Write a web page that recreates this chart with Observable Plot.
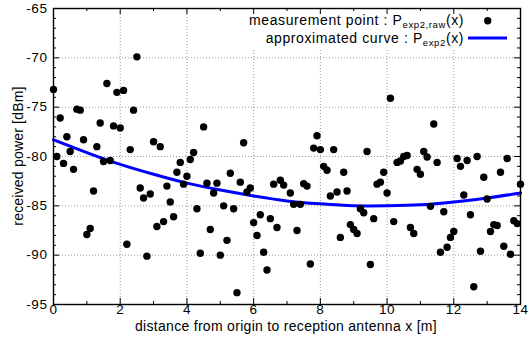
<!DOCTYPE html>
<html><head><meta charset="utf-8">
<script src="https://cdn.jsdelivr.net/npm/d3@7"></script>
<script src="https://cdn.jsdelivr.net/npm/@observablehq/plot@0.6"></script>
<style>body{margin:0;background:#fff}</style>
</head><body><div id="chart"></div>
<script>
// measurement positions [m] (no reading visible at 7.0 m)
const distance = [
 0.0,0.1,0.2,0.3,0.4,0.5,0.6,0.7,0.8,0.9,
 1.0,1.1,1.2,1.3,1.4,1.5,1.6,1.7,1.8,1.9,
 2.0,2.1,2.2,2.3,2.4,2.5,2.6,2.7,2.8,2.9,
 3.0,3.1,3.2,3.3,3.4,3.5,3.6,3.7,3.8,3.9,
 4.0,4.1,4.2,4.3,4.4,4.5,4.6,4.7,4.8,4.9,
 5.0,5.1,5.2,5.3,5.4,5.5,5.6,5.7,5.8,5.9,
 6.0,6.1,6.2,6.3,6.4,6.5,6.6,6.7,6.8,6.9,
 7.1,7.2,7.3,7.4,7.5,7.6,7.7,7.8,7.9,
 8.0,8.1,8.2,8.3,8.4,8.5,8.6,8.7,8.8,8.9,
 9.0,9.1,9.2,9.3,9.4,9.5,9.6,9.7,9.8,9.9,
 10.0,10.1,10.2,10.3,10.4,10.5,10.6,10.7,10.8,10.9,
 11.0,11.1,11.2,11.3,11.4,11.5,11.6,11.7,11.8,11.9,
 12.0,12.1,12.2,12.3,12.4,12.5,12.6,12.7,12.8,12.9,
 13.0,13.1,13.2,13.3,13.4,13.5,13.6,13.7,13.8,13.9,
 14.0
];
// measured received power [dBm]
const power = [
 -73.2,-80.0,-76.1,-80.7,-78.0,-79.5,-81.3,-75.2,-75.3,-78.3,
 -87.9,-87.3,-83.5,-79.0,-76.6,-80.5,-72.6,-80.4,-76.9,-73.5,
 -77.1,-73.3,-88.9,-79.3,-75.3,-69.9,-83.2,-84.2,-90.1,-83.8,
 -78.5,-87.1,-79.0,-86.6,-83.0,-84.6,-86.1,-81.6,-80.6,-82.8,
 -82.0,-80.3,-79.6,-85.3,-89.8,-77.0,-82.7,-87.4,-83.7,-82.7,
 -90.0,-85.0,-88.5,-81.7,-85.3,-93.8,-82.6,-78.6,-83.6,-83.2,
 -86.7,-88.0,-85.9,-89.7,-91.5,-86.3,-82.8,-87.2,-82.4,-82.9,
 -83.7,-84.85,-87.5,-84.85,-82.75,-83.0,-90.9,-79.15,-77.9,
 -79.3,-81.0,-81.4,-84.0,-79.3,-83.6,-88.2,-81.6,-83.5,-86.9,
 -87.4,-87.8,-85.3,-85.7,-79.5,-90.95,-86.3,-82.8,-82.6,-81.6,
 -83.7,-74.1,-86.6,-80.6,-80.45,-80.0,-79.9,-87.2,-87.8,-81.3,
 -81.8,-79.5,-80.05,-85.05,-76.7,-80.6,-89.7,-85.6,-89.2,-88.2,
 -87.6,-80.2,-81.0,-83.9,-80.4,-85.9,-93.2,-80.0,-89.6,-82.1,
 -84.3,-87.6,-86.9,-87.0,-81.6,-89.1,-80.2,-89.9,-86.5,-86.8,
 -82.8
];
// approximated curve at 1 m steps
const curveX = [0,1,2,3,4,5,6,7,8,9,10,11,12,13,14];
const curveY = [-78.3,-79.6,-80.8,-81.8,-82.7,-83.4,-84.0,-84.5,-84.8,-85.0,-85.0,-84.9,-84.6,-84.2,-83.7];

const xMajorTicks = [0,2,4,6,8,10,12,14];
const xMinorTicks = [1,3,5,7,9,11,13];
const yMajorTicks = [-95,-90,-85,-80,-75,-70,-65];
const yMinorTicks = [-94,-93,-92,-91,-89,-88,-87,-86,-84,-83,-82,-81,-79,-78,-77,-76,-74,-73,-72,-71,-69,-68,-67,-66];

const xLabel = "distance from origin to reception antenna x [m]";
const yLabel = "received power [dBm]";

const points = distance.map((d, i) => ({x: d, y: power[i]}));
const curve = curveX.map((d, i) => ({x: d, y: curveY[i]}));

const W = 529, H = 348, mL = 53, mR = 9, mT = 8, mB = 44;
const fw = W - mL - mR, fh = H - mT - mB;
const FONT = "'Liberation Sans', Arial, Helvetica, sans-serif";

const chart = Plot.plot({
  width: W, height: H,
  marginLeft: mL, marginRight: mR, marginTop: mT, marginBottom: mB,
  style: {fontFamily: FONT, fontSize: "13.5px", letterSpacing: "0.6px", background: "#fff", color: "#000"},
  x: {domain: [0, 14]},
  y: {domain: [-95, -65]},
  marks: [
    Plot.gridX(xMajorTicks.filter(d => d > 0 && d < 14), {stroke: "#9a9a9a", strokeOpacity: 1, strokeDasharray: "1,2"}),
    Plot.gridY(yMajorTicks.filter(d => d > -95 && d < -65), {stroke: "#9a9a9a", strokeOpacity: 1, strokeDasharray: "1,2"}),
    Plot.line(curve, {x: "x", y: "y", stroke: "#0000ff", strokeWidth: 3, curve: "natural"}),
    Plot.dot(points, {x: "x", y: "y", r: 3.7, fill: "#000", stroke: "none"}),
    Plot.frame({stroke: "#000", strokeWidth: 1.4}),
    // inward ticks, bottom / top
    Plot.ruleX(xMajorTicks, {x: d => d, stroke: "#000", insetTop: fh - 6}),
    Plot.ruleX(xMajorTicks, {x: d => d, stroke: "#000", insetBottom: fh - 6}),
    Plot.ruleX(xMinorTicks, {x: d => d, stroke: "#000", insetTop: fh - 3}),
    Plot.ruleX(xMinorTicks, {x: d => d, stroke: "#000", insetBottom: fh - 3}),
    // inward ticks, left / right
    Plot.ruleY(yMajorTicks, {y: d => d, stroke: "#000", insetRight: fw - 6}),
    Plot.ruleY(yMajorTicks, {y: d => d, stroke: "#000", insetLeft: fw - 6}),
    Plot.ruleY(yMinorTicks, {y: d => d, stroke: "#000", insetRight: fw - 3}),
    Plot.ruleY(yMinorTicks, {y: d => d, stroke: "#000", insetLeft: fw - 3}),
    Plot.axisX(xMajorTicks, {tickSize: 0, tickPadding: 0, tickFormat: d => String(d), label: null}),
    Plot.axisY(yMajorTicks, {tickSize: 0, tickPadding: 6, tickFormat: d => String(d), label: null})
  ]
});
document.getElementById("chart").appendChild(chart);

const svg = d3.select(chart);
// axis titles
svg.append("text").attr("x", 286).attr("y", 331).attr("text-anchor", "middle")
  .attr("font-family", FONT).attr("font-size", 14).attr("letter-spacing", "0.3px").attr("fill", "#000").text(xLabel);
svg.append("text").attr("transform", "translate(22.5,156) rotate(-90)").attr("text-anchor", "middle")
  .attr("font-family", FONT).attr("font-size", 14).attr("letter-spacing", "0.2px").attr("fill", "#000").text(yLabel);

// key (opaque box, drawn beneath border ticks)
const key = svg.insert("g", "[aria-label=frame]").attr("font-family", FONT).attr("font-size", 14)
  .attr("letter-spacing", "0.6px").attr("fill", "#000");
key.append("rect").attr("x", 245).attr("y", 9).attr("width", 274).attr("height", 40).attr("fill", "#fff");
const t1 = key.append("text").attr("x", 464).attr("y", 24.5).attr("text-anchor", "end");
t1.append("tspan").text("measurement point : P");
t1.append("tspan").attr("dy", 3).attr("font-size", 9.5).text("exp2,raw");
t1.append("tspan").attr("dy", -3).text("(x)");
const t2 = key.append("text").attr("x", 464).attr("y", 42.5).attr("text-anchor", "end");
t2.append("tspan").text("approximated curve : P");
t2.append("tspan").attr("dy", 3).attr("font-size", 9.5).text("exp2");
t2.append("tspan").attr("dy", -3).text("(x)");
key.append("circle").attr("cx", 487.7).attr("cy", 20.7).attr("r", 3.7).attr("fill", "#000");
key.append("line").attr("x1", 468).attr("x2", 507).attr("y1", 38).attr("y2", 38)
  .attr("stroke", "#0000ff").attr("stroke-width", 3);
</script>
</body></html>
